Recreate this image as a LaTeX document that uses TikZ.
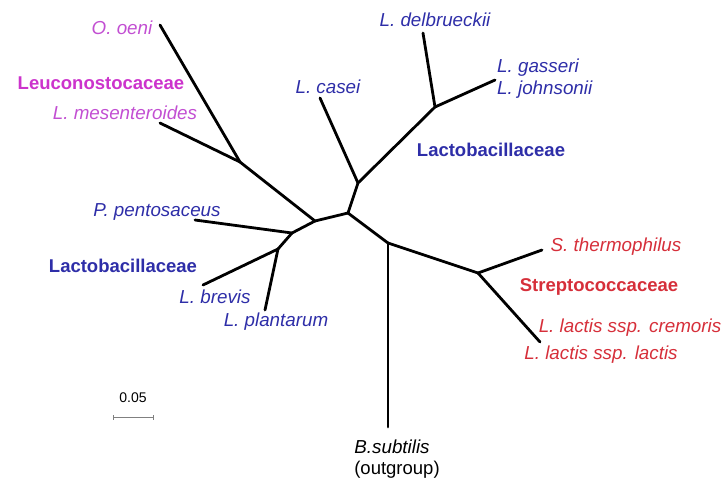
\documentclass[tikz,border=0pt]{standalone}
\usepackage{fontspec}
\setmainfont{Liberation Sans}
\definecolor{leuco}{HTML}{CC33CC}
\definecolor{leucosp}{HTML}{C24FD2}
\definecolor{lacto}{HTML}{2E2EA8}
\definecolor{strep}{HTML}{D62F3A}
\tikzset{
  branch/.style={line width=2.8pt, line cap=round, line join=round, black},
  sp/.style={font=\fontsize{18.8}{21}\selectfont\itshape, inner sep=0pt},
  fam/.style={font=\fontsize{18.5}{21}\selectfont\bfseries, inner sep=0pt},
  plain/.style={font=\fontsize{18.5}{21}\selectfont, inner sep=0pt}
}
\begin{document}
\begin{tikzpicture}[x=1pt,y=-1pt]
\useasboundingbox (0,0) rectangle (726,482);
% internal nodes
\coordinate (nLeu) at (240,162);
\coordinate (nA) at (315,221);
\coordinate (nP) at (292,233);
\coordinate (nBP) at (278,249);
\coordinate (nB) at (348,213);
\coordinate (nC) at (358,183);
\coordinate (nD) at (435,107);
\coordinate (nR) at (388,243);
\coordinate (nS) at (478,273);
% tips
\coordinate (tOeni) at (160,25);
\coordinate (tMes) at (160,123);
\coordinate (tPent) at (195,220);
\coordinate (tBrev) at (203,285);
\coordinate (tPlan) at (265,310);
\coordinate (tCasei) at (320,98);
\coordinate (tDelb) at (423,33);
\coordinate (tGas) at (495,80);
\coordinate (tBsub) at (388,427);
\coordinate (tTherm) at (542,250);
\coordinate (tLact) at (540,342);
% branches
\draw[branch] (tOeni) -- (nLeu);
\draw[branch] (tMes) -- (nLeu);
\draw[branch] (nLeu) -- (nA);
\draw[branch] (nA) -- (nP);
\draw[branch] (tPent) -- (nP);
\draw[branch] (nP) -- (nBP);
\draw[branch] (nBP) -- (tBrev);
\draw[branch] (nBP) -- (tPlan);
\draw[branch] (nA) -- (nB);
\draw[branch] (nB) -- (nC);
\draw[branch] (nC) -- (tCasei);
\draw[branch] (nC) -- (nD);
\draw[branch] (nD) -- (tDelb);
\draw[branch] (nD) -- (tGas);
\draw[branch] (nB) -- (nR);
\draw[branch] (nR) -- (tBsub);
\draw[branch] (nR) -- (nS);
\draw[branch] (nS) -- (tTherm);
\draw[branch] (nS) -- (tLact);
% labels
\node[sp, text=leucosp] (lOeni) at (122,28) {O. oeni};
\node[fam, text=leuco] (lLeu) at (101,83) {Leuconostocaceae};
\node[sp, text=leucosp] (lMes) at (125,113) {L. mesenteroides};
\node[sp, text=lacto] (lCasei) at (328,87) {L. casei};
\node[sp, text=lacto] (lDelb) at (435,20) {L. delbrueckii};
\node[sp, text=lacto, anchor=west] (lGas) at (497,68) {L. gasseri};
\node[sp, text=lacto, anchor=west] (lJohn) at (497,90) {L. johnsonii};
\node[fam, text=lacto] (lLac1) at (491,150) {Lactobacillaceae};
\node[sp, text=lacto] (lPent) at (157,212) {P. pentosaceus};
\node[fam, text=lacto] (lLac2) at (123,266) {Lactobacillaceae};
\node[sp, text=lacto] (lBrev) at (215,297) {L. brevis};
\node[sp, text=lacto] (lPlan) at (276,322) {L. plantarum};
\node[sp, text=strep] (lTherm) at (616,247) {S. thermophilus};
\node[fam, text=strep] (lStrep) at (599,287) {Streptococcaceae};
\node[sp, text=strep] (lCrem) at (630,328) {L. lactis ssp. cremoris};
\node[sp, text=strep] (lLactis) at (601,355) {L. lactis ssp. lactis};
\node[sp] (lBsub) at (392,447) {B.subtilis};
\node[plain] (lOut) at (397,470) {(outgroup)};
% scale bar
\node[font=\fontsize{14}{16}\selectfont, inner sep=0pt] (lScale) at (133,398) {0.05};
\coordinate (sL) at (113,417);
\coordinate (sR) at (153,417);
\draw[gray, line width=0.8pt] (sL) -- (sR);
\draw[gray, line width=0.8pt] ([yshift=-2.5pt]sL) -- ([yshift=2.5pt]sL);
\draw[gray, line width=0.8pt] ([yshift=-2.5pt]sR) -- ([yshift=2.5pt]sR);
\end{tikzpicture}
\end{document}
